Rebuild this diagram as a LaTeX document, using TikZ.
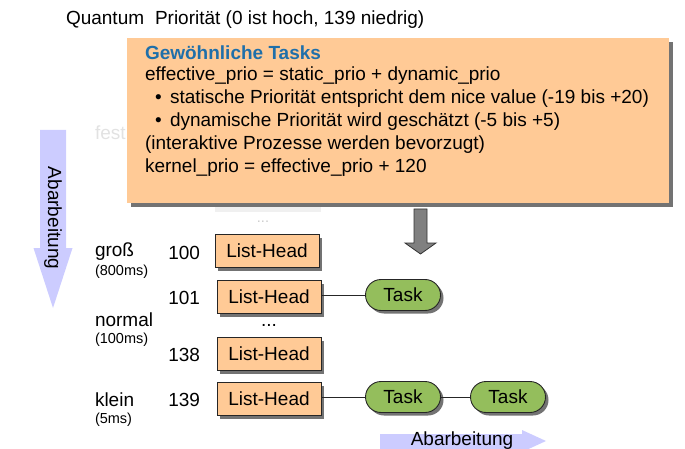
\documentclass[tikz,border=0pt]{standalone}
\usepackage{fontspec}
\setmainfont{Liberation Sans}
\usetikzlibrary{shapes.misc,shadows}
\definecolor{peach}{HTML}{FFCA96}
\definecolor{taskgreen}{HTML}{94BE5C}
\definecolor{headblue}{HTML}{1F6FAA}
\definecolor{lavender}{HTML}{CCCCFF}
\definecolor{ghost}{HTML}{E2E2E2}
\tikzset{
  every node/.style={inner sep=0pt, outer sep=0pt},
  bigfont/.style={font=\fontsize{19}{22}\selectfont},
  smallfont/.style={font=\fontsize{14.5}{16}\selectfont},
  boxshadow/.style={drop shadow={shadow xshift=3pt, shadow yshift=-3pt, fill=black!55, opacity=1}},
  listhead/.style={bigfont, draw=black!85, line width=0.9pt, fill=peach,
    minimum width=104pt, minimum height=33pt, boxshadow},
  taskpill/.style={bigfont, rounded rectangle, draw=black!85, line width=0.9pt, fill=taskgreen,
    minimum width=75pt, minimum height=31pt, boxshadow},
  link/.style={draw=black!85, line width=0.9pt},
  prio/.style={bigfont, anchor=east},
  sizelabel/.style={bigfont, anchor=west},
  msec/.style={smallfont, anchor=west},
  boxline/.style={bigfont, anchor=west},
  flowarrow/.style={fill=lavender, draw=none},
}
\begin{document}
\begin{tikzpicture}[x=1pt, y=-1pt]
\useasboundingbox (0,0) rectangle (685,449);
\clip (0,0) rectangle (685,449);

% heading line
\node[bigfont, anchor=west] (quantum) at (66,20) {Quantum};
\node[bigfont, anchor=west] (prioh) at (155,20) {Priorität (0 ist hoch, 139 niedrig)};

% faded elements lying behind the note box
\node[bigfont, anchor=west, text=ghost] (fest) at (95,133) {fest};
\fill[ghost!50] (215,203) rectangle (321,212);
\node[smallfont, text=ghost!90!black] (gdots) at (263,222) {...};

% processing direction (vertical)
\path[flowarrow] (40,130) -- (66,130) -- (66,248) -- (72.5,248) -- (53,308) -- (33.5,248) -- (40,248) -- cycle;
\node[bigfont, rotate=-90] (abv) at (53,218) {Abarbeitung};

% processing direction (horizontal)
\path[flowarrow] (380,434) -- (522,434) -- (522,430) -- (546,441) -- (522,452) -- (522,449) -- (380,449) -- cycle;
\node[bigfont] (abh) at (462,441) {Abarbeitung};

% note box with the priority formulas
\fill[black!55] (131,42) rectangle (673,207);
\fill[peach] (127,38) rectangle (669,203);
\node[boxline, text=headblue, font=\fontsize{19}{22}\selectfont\bfseries] (ttl) at (145,53) {Gewöhnliche Tasks};
\node[boxline] (l1) at (145,76) {effective\_prio = static\_prio + dynamic\_prio};
\node[boxline] (b1) at (155,99) {•};
\node[boxline] (l2) at (170,99) {statische Priorität entspricht dem nice value (-19 bis +20)};
\node[boxline] (b2) at (155,122) {•};
\node[boxline] (l3) at (170,122) {dynamische Priorität wird geschätzt (-5 bis +5)};
\node[boxline] (l4) at (145,145) {(interaktive Prozesse werden bevorzugt)};
\node[boxline] (l5) at (145,168) {kernel\_prio = effective\_prio + 120};

% arrow from the note down to the queues
\draw[fill=black!50, draw=black!80, line width=0.8pt]
  (414,209) -- (427,209) -- (427,243) -- (436,243) -- (420.5,254) -- (405,243) -- (414,243) -- cycle;

% size classes
\node[sizelabel] (gross) at (95,252) {groß};
\node[msec] (g800) at (95,272) {(800ms)};
\node[sizelabel] (normal) at (95,320) {normal};
\node[msec] (n100) at (95,340) {(100ms)};
\node[sizelabel] (klein) at (95,400) {klein};
\node[msec] (k5) at (95,420) {(5ms)};

% priority numbers
\node[prio] (p100) at (200,253) {100};
\node[prio] (p101) at (200,298) {101};
\node[prio] (p138) at (200,355) {138};
\node[prio] (p139) at (200,400) {139};

% queue heads
\node[listhead] (h100) at (267,251) {List-Head};
\node[listhead] (h101) at (269,297) {List-Head};
\node[bigfont] (hdots) at (269,325) {...};
\node[listhead] (h138) at (269,354) {List-Head};
\node[listhead] (h139) at (269,399) {List-Head};

% queued tasks
\node[taskpill] (t1) at (403,295) {Task};
\node[taskpill] (t2) at (403,397) {Task};
\node[taskpill] (t3) at (508,397) {Task};

\draw[link] (t1.west -| h101.east) -- (t1.west);
\draw[link] (t2.west -| h139.east) -- (t2.west);
\draw[link] (t2.east) -- (t3.west);
\end{tikzpicture}
\end{document}
